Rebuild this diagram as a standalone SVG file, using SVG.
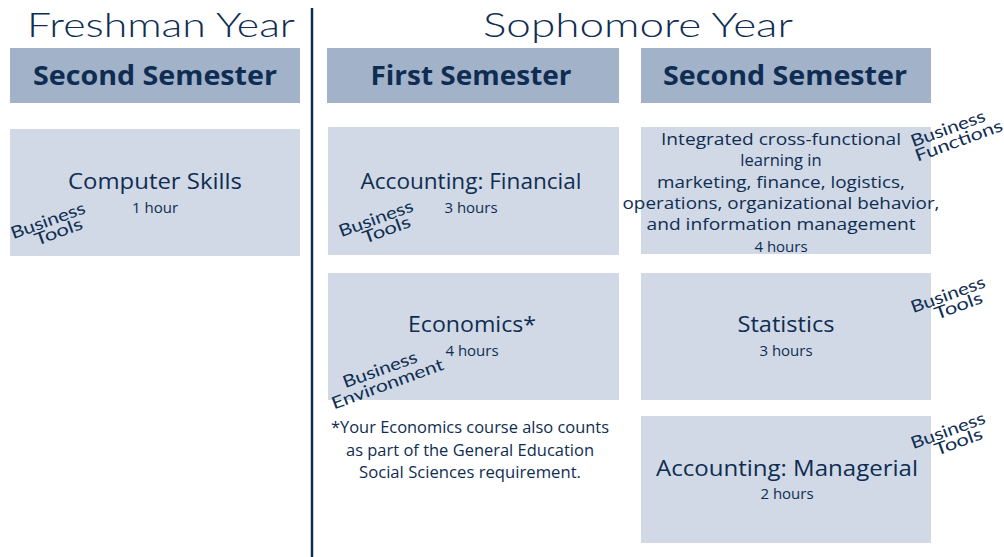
<svg xmlns="http://www.w3.org/2000/svg" width="1004" height="557" viewBox="0 0 1004 557">
<style>
.year{font-family:"Lato","DejaVu Sans",sans-serif;font-weight:300;font-size:34px;fill:#0f2d52;}
.hdr{fill:#a1b2c9;}
.hdrt{font-family:"Open Sans","Noto Sans",sans-serif;font-weight:bold;font-size:26px;fill:#0f2d52;text-anchor:middle;}
.box{fill:#d0d9e5;}
.ct{font-family:"Open Sans","Noto Sans",sans-serif;font-size:21px;fill:#0f2d52;text-anchor:middle;}
.ci{font-family:"Open Sans","Noto Sans",sans-serif;font-size:16.5px;fill:#0f2d52;text-anchor:middle;}
.hr{font-family:"Open Sans","Noto Sans",sans-serif;font-size:15px;fill:#0f2d52;text-anchor:middle;}
.fn{font-family:"Open Sans","Noto Sans",sans-serif;font-size:15.5px;fill:#0f2d52;text-anchor:middle;}
.tag{font-family:"Lato","DejaVu Sans",sans-serif;font-weight:400;font-size:17px;fill:#0f2d52;text-anchor:middle;}
</style>
<rect width="1004" height="557" fill="#ffffff"/>
<g id="titles">
<text class="year" x="27" y="37" textLength="268" lengthAdjust="spacingAndGlyphs">Freshman Year</text>
<text class="year" x="483" y="37" textLength="310" lengthAdjust="spacingAndGlyphs">Sophomore Year</text>
</g>
<g id="connectors">
<line x1="312" y1="8" x2="312" y2="557" stroke="#0f2d52" stroke-width="2.5"/>
</g>
<g id="hdr-fresh-second">
<rect class="hdr" x="10" y="48" width="290" height="55"/>
<text class="hdrt" x="155" y="85" textLength="244" lengthAdjust="spacingAndGlyphs">Second Semester</text>
</g>
<g id="hdr-soph-first">
<rect class="hdr" x="327" y="48" width="292" height="55"/>
<text class="hdrt" x="471" y="85" textLength="201" lengthAdjust="spacingAndGlyphs">First Semester</text>
</g>
<g id="hdr-soph-second">
<rect class="hdr" x="641" y="48" width="290" height="55"/>
<text class="hdrt" x="785" y="85" textLength="244" lengthAdjust="spacingAndGlyphs">Second Semester</text>
</g>
<g id="computer-skills">
<rect class="box" x="10" y="129" width="290" height="127"/>
<text class="ct" x="155" y="189" textLength="174" lengthAdjust="spacingAndGlyphs">Computer Skills</text>
<text class="hr" x="155" y="213">1 hour</text>
<g transform="translate(50,226) rotate(-20)"><text class="tag" x="0" y="0" textLength="78" lengthAdjust="spacingAndGlyphs">Business</text><text class="tag" x="6" y="14" textLength="50" lengthAdjust="spacingAndGlyphs">Tools</text></g>
</g>
<g id="accounting-financial">
<rect class="box" x="328" y="127" width="291" height="128"/>
<text class="ct" x="471" y="189" textLength="221" lengthAdjust="spacingAndGlyphs">Accounting: Financial</text>
<text class="hr" x="471" y="213">3 hours</text>
<g transform="translate(378,224) rotate(-20)"><text class="tag" x="0" y="0" textLength="78" lengthAdjust="spacingAndGlyphs">Business</text><text class="tag" x="6" y="14" textLength="50" lengthAdjust="spacingAndGlyphs">Tools</text></g>
</g>
<g id="integrated">
<rect class="box" x="641" y="127" width="290" height="127"/>
<text class="ci" x="781" y="145" textLength="240" lengthAdjust="spacingAndGlyphs">Integrated cross-functional</text>
<text class="ci" x="781" y="166">learning in</text>
<text class="ci" x="781" y="188" textLength="248" lengthAdjust="spacingAndGlyphs">marketing, finance, logistics,</text>
<text class="ci" x="781" y="209" textLength="317" lengthAdjust="spacingAndGlyphs">operations, organizational behavior,</text>
<text class="ci" x="781" y="230" textLength="269" lengthAdjust="spacingAndGlyphs">and information management</text>
<text class="hr" x="781" y="252">4 hours</text>
<g transform="translate(950,134) rotate(-20)"><text class="tag" x="0" y="0" textLength="78" lengthAdjust="spacingAndGlyphs">Business</text><text class="tag" x="6" y="15" textLength="92" lengthAdjust="spacingAndGlyphs">Functions</text></g>
</g>
<g id="economics">
<rect class="box" x="328" y="273" width="291" height="127"/>
<text class="ct" x="472" y="332" textLength="128" lengthAdjust="spacingAndGlyphs">Economics*</text>
<text class="hr" x="472" y="356">4 hours</text>
<g transform="translate(382,375) rotate(-20)"><text class="tag" x="0" y="0" textLength="78" lengthAdjust="spacingAndGlyphs">Business</text><text class="tag" x="2" y="16" textLength="118" lengthAdjust="spacingAndGlyphs">Environment</text></g>
</g>
<g id="footnote">
<text class="fn" x="470" y="433" textLength="278" lengthAdjust="spacingAndGlyphs">*Your Economics course also counts</text>
<text class="fn" x="470" y="456" textLength="248" lengthAdjust="spacingAndGlyphs">as part of the General Education</text>
<text class="fn" x="470" y="478" textLength="222" lengthAdjust="spacingAndGlyphs">Social Sciences requirement.</text>
</g>
<g id="statistics">
<rect class="box" x="641" y="273" width="290" height="127"/>
<text class="ct" x="786" y="332" textLength="97" lengthAdjust="spacingAndGlyphs">Statistics</text>
<text class="hr" x="786" y="356">3 hours</text>
<g transform="translate(950,300) rotate(-20)"><text class="tag" x="0" y="0" textLength="78" lengthAdjust="spacingAndGlyphs">Business</text><text class="tag" x="6" y="14" textLength="50" lengthAdjust="spacingAndGlyphs">Tools</text></g>
</g>
<g id="accounting-managerial">
<rect class="box" x="641" y="416" width="290" height="127"/>
<text class="ct" x="787" y="476" textLength="262" lengthAdjust="spacingAndGlyphs">Accounting: Managerial</text>
<text class="hr" x="787" y="499">2 hours</text>
<g transform="translate(950,436) rotate(-20)"><text class="tag" x="0" y="0" textLength="78" lengthAdjust="spacingAndGlyphs">Business</text><text class="tag" x="6" y="14" textLength="50" lengthAdjust="spacingAndGlyphs">Tools</text></g>
</g>
</svg>
